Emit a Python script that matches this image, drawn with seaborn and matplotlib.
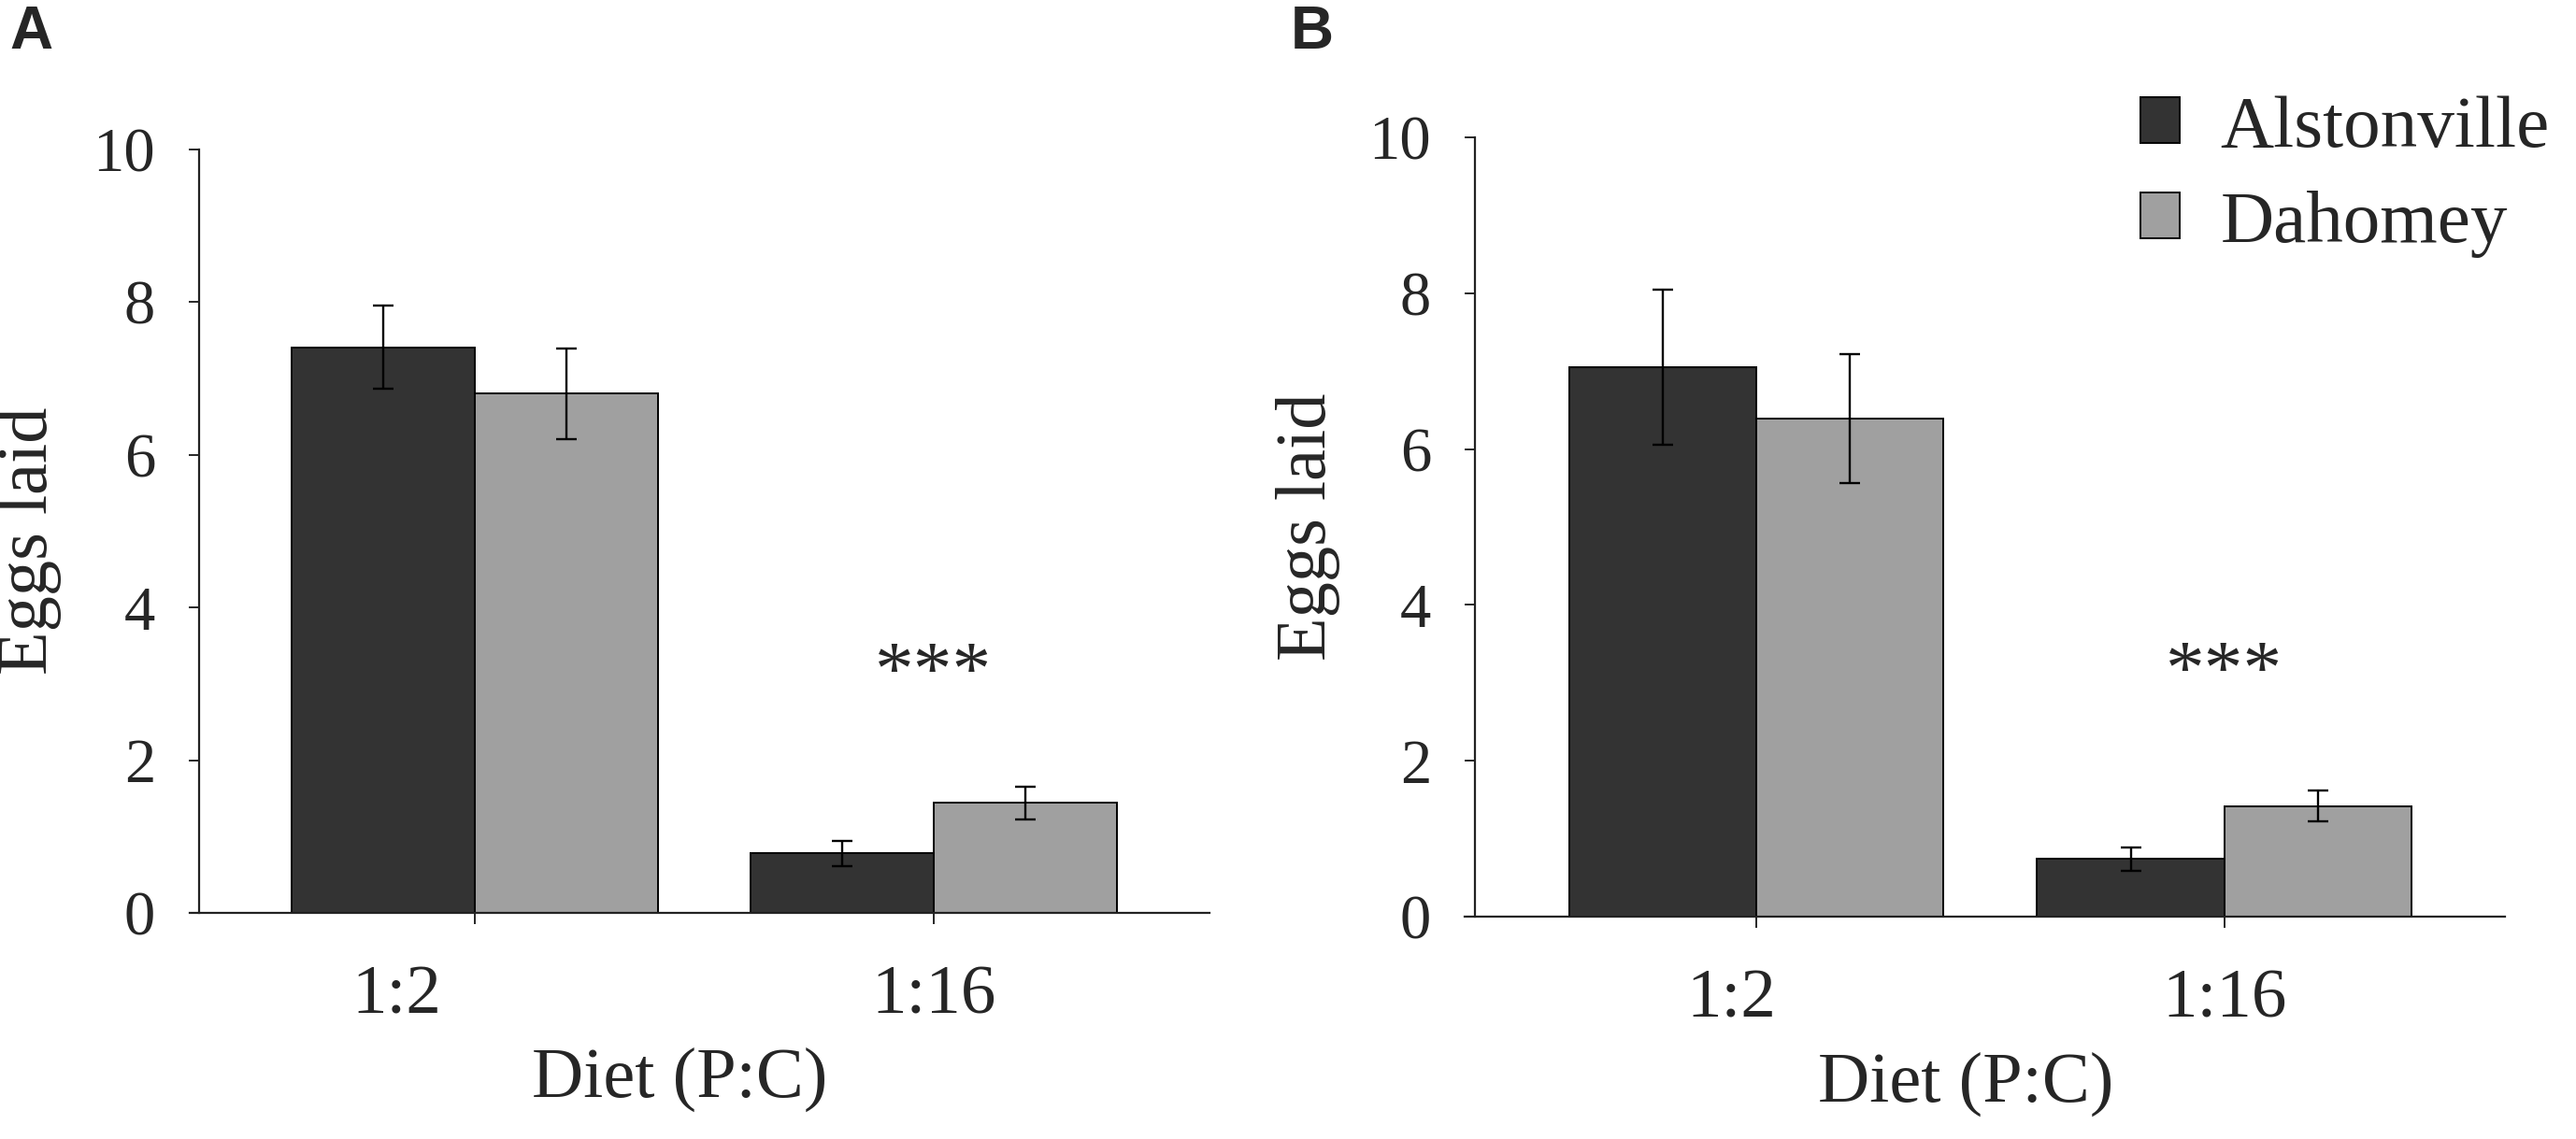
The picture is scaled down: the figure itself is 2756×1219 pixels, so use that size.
"""
Eggs laid by two fly lines on two P:C diets, two panels (A, B)
"""
import numpy as np
import pandas as pd
import matplotlib
matplotlib.use('Agg')
import matplotlib.pyplot as plt
import matplotlib.transforms as mtransforms
from matplotlib.patches import Patch
import seaborn as sns

# --- data ---
diets = ['1:2', '1:16']
lines = ['Alstonville', 'Dahomey']
line_colors = ['#333333', '#a0a0a0']

# panel A
a_alston_mean = [7.41, 0.78]
a_alston_se = [0.545, 0.165]
a_dahomey_mean = [6.80, 1.44]
a_dahomey_se = [0.595, 0.21]

# panel B
b_alston_mean = [7.05, 0.74]
b_alston_se = [0.99, 0.15]
b_dahomey_mean = [6.39, 1.42]
b_dahomey_se = [0.83, 0.20]

star_label = '***'
star_y = 3.1          # height of the *** mark above the 1:16 pair
y_ticks = [0, 2, 4, 6, 8, 10]

sns.set_style('ticks')
plt.rcParams['font.family'] = ['Liberation Serif', 'DejaVu Serif']

W, H = 2756, 1219
fig = plt.figure(figsize=(W / 100, H / 100), dpi=100)


def draw_panel(ax, alston_mean, alston_se, dahomey_mean, dahomey_se, first_shift_px):
    df = pd.DataFrame({
        'diet': diets * 2,
        'line': [lines[0]] * 2 + [lines[1]] * 2,
        'eggs': alston_mean + dahomey_mean,
        'se': alston_se + dahomey_se,
    })
    sns.barplot(data=df, x='diet', y='eggs', hue='line', order=diets, hue_order=lines,
                palette=line_colors, saturation=1, errorbar=None, width=0.8,
                edgecolor='black', linewidth=1.4, ax=ax, legend=False)

    # error bars at the bar centres
    for container, line in zip(ax.containers, lines):
        sub = df[df['line'] == line].set_index('diet').loc[diets]
        xs = [b.get_x() + b.get_width() / 2 for b in container]
        ax.errorbar(xs, sub['eggs'], yerr=sub['se'], fmt='none', ecolor='black',
                    elinewidth=1.7, capsize=8, capthick=1.7, zorder=3)

    ax.text(1, star_y, star_label, ha='center', va='center', fontsize=60)

    ax.set_xlim(-0.622, 1.6)
    ax.set_ylim(0, 10)
    ax.set_yticks(y_ticks)
    ax.spines[['top', 'right']].set_visible(False)
    ax.spines['left'].set_position(('data', -0.6))
    for s in ['left', 'bottom']:
        ax.spines[s].set_linewidth(1.6)
        ax.spines[s].set_color('#222222')

    ax.tick_params(axis='y', direction='out', length=8, width=1.4, pad=26, labelsize=48)
    ax.tick_params(axis='x', direction='out', length=8.6, width=1.4, pad=32, labelsize=54)

    ax.set_xlabel('Diet (P:C)', fontsize=55)
    ax.set_ylabel('Eggs laid', fontsize=55)

    # the 1:2 label sits a bit left of its tick in the original
    lbl = ax.get_xticklabels()[0]
    lbl.set_transform(lbl.get_transform() +
                      mtransforms.ScaledTranslation(first_shift_px / 100, 0, fig.dpi_scale_trans))


ax_a = fig.add_axes([202.6 / W, (H - 977) / H, 1091 / W, 817 / H])
draw_panel(ax_a, a_alston_mean, a_alston_se, a_dahomey_mean, a_dahomey_se, -84)
ax_a.xaxis.set_label_coords(0.481, -0.176)
ax_a.yaxis.set_label_coords(-0.125, 0.487)

ax_b = fig.add_axes([1567.4 / W, (H - 981) / H, 1113 / W, 834 / H])
draw_panel(ax_b, b_alston_mean, b_alston_se, b_dahomey_mean, b_dahomey_se, -27)
ax_b.xaxis.set_label_coords(0.481, -0.173)
ax_b.yaxis.set_label_coords(-0.12, 0.50)

handles = [Patch(facecolor=c, edgecolor='black', linewidth=1.4, label=l)
           for c, l in zip(line_colors, lines)]
ax_b.legend(handles=handles, loc='upper left', bbox_to_anchor=(2290 / W, 1 - 102 / H),
            bbox_transform=fig.transFigure, frameon=False, fontsize=57,
            handlelength=0.53, handleheight=0.57, handletextpad=0.55,
            labelspacing=0.38, borderpad=0, borderaxespad=0)

fig.text(10 / W, 1 - 52 / H, 'A', ha='left', va='baseline', fontsize=46,
         fontweight='bold', family=['Liberation Sans', 'DejaVu Sans'])
fig.text(1381 / W, 1 - 52 / H, 'B', ha='left', va='baseline', fontsize=46,
         fontweight='bold', family=['Liberation Sans', 'DejaVu Sans'])

fig.savefig('out.png', dpi=100)
plt.close(fig)
